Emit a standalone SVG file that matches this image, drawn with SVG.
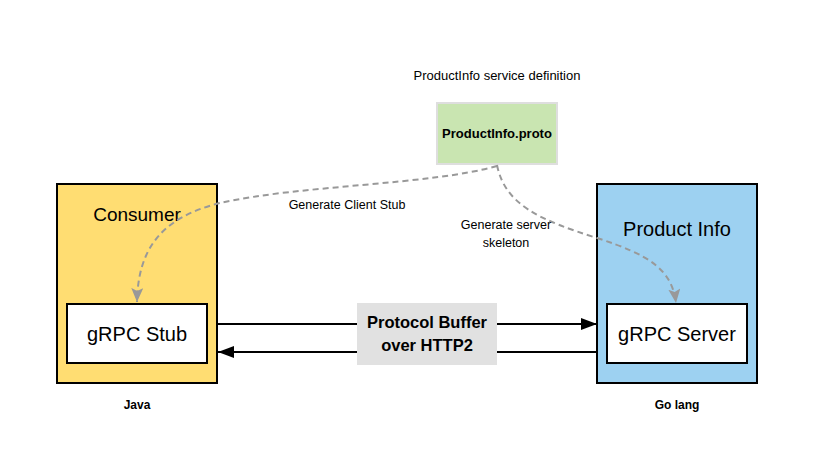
<svg xmlns="http://www.w3.org/2000/svg" width="814" height="476" viewBox="0 0 814 476">
<style>
text{font-family:"Liberation Sans",Arial,sans-serif;fill:#000;text-anchor:middle;dominant-baseline:central}
.outer{stroke:#000;stroke-width:2}
.inner{fill:#fff;stroke:#000;stroke-width:2}
.big{font-size:19px}
.mid{font-size:20px}
.small{font-size:12.5px}
.bold{font-weight:bold}
.dash{fill:none;stroke:#999;stroke-width:2;stroke-dasharray:6 4}
.solid{fill:none;stroke:#000;stroke-width:2}
</style>
<defs>
<marker id="ga" markerUnits="userSpaceOnUse" markerWidth="16" markerHeight="14" refX="14" refY="6" orient="auto">
<path d="M0,0 L14,6 L0,12 L3,6 Z" fill="#999"/>
</marker>
<marker id="ba" markerUnits="userSpaceOnUse" markerWidth="18" markerHeight="14" refX="16" refY="6" orient="auto">
<path d="M0,0 L16,6 L0,12 Z" fill="#000"/>
</marker>
</defs>
<rect width="814" height="476" fill="#fff"/>
<g id="title"><text x="497" y="75" style="font-size:13px">ProductInfo service definition</text></g>
<g id="proto">
<rect x="437" y="103" width="120" height="61" fill="#c9e5b1" stroke="#dedede" stroke-width="2"/>
<text x="497" y="133" class="bold" style="font-size:13px">ProductInfo.proto</text>
</g>
<g id="consumer">
<rect x="57" y="184" width="160" height="199" fill="#ffdd72" class="outer"/>
<text x="137" y="214" class="big">Consumer</text>
</g>
<g id="productinfo">
<rect x="597" y="184" width="160" height="199" fill="#9dd1f1" class="outer"/>
<text x="677" y="229" class="mid">Product Info</text>
</g>
<g id="stub">
<rect x="67" y="304" width="140" height="59" class="inner"/>
<text x="137" y="334" class="mid">gRPC Stub</text>
</g>
<g id="server">
<rect x="607" y="304" width="140" height="59" class="inner"/>
<text x="677" y="334" class="mid">gRPC Server</text>
</g>
<g id="java"><text x="137" y="405" class="bold" style="font-size:12px">Java</text></g>
<g id="golang"><text x="677" y="405" class="bold" style="font-size:12px">Go lang</text></g>
<g id="connectors">
<path class="dash" d="M497,166 C430,185 300,185 220,203 C160,218 138,250 137,302" marker-end="url(#ga)"/>
<path class="dash" d="M497,165 C505,205 540,220 597,238 C650,255 672,270 676,303" marker-end="url(#ga)"/>
<path class="solid" d="M217,324 L597,324" marker-end="url(#ba)"/>
<path class="solid" d="M597,352 L218,352" marker-end="url(#ba)"/>
<text x="347" y="205" class="small">Generate Client Stub</text>
<text x="506" y="225" class="small">Generate server</text>
<text x="506" y="243" class="small">skeleton</text>
<rect x="357" y="303" width="140" height="62" fill="#e1e1e1"/>
<text x="427" y="322" class="bold" style="font-size:16.5px">Protocol Buffer</text>
<text x="427" y="345" class="bold" style="font-size:16.5px">over HTTP2</text>
</g>
</svg>
